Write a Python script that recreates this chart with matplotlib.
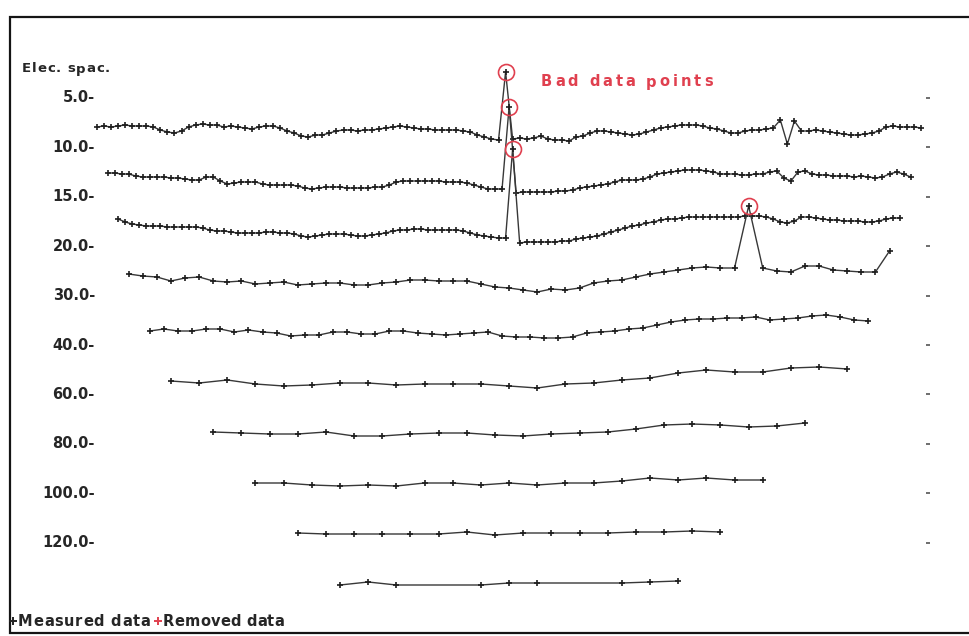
import numpy as np
import matplotlib
matplotlib.use("Agg")
import matplotlib.pyplot as plt
from matplotlib.font_manager import FontProperties
from matplotlib.transforms import offset_copy

# --------------------------------------------------------------------------
# data: Wenner profile, one list per electrode spacing (relative values,
# positive = higher on the plot). None = datum not shown.
# --------------------------------------------------------------------------
spacings = [5.0, 10.0, 15.0, 20.0, 30.0, 40.0, 60.0, 80.0, 100.0, 120.0]
steps = [5, 5, 5, 10, 10, 20, 20, 20, 20, 20]   # plotted datum interval (m)

a5 = [3, 4, 3, 4, 5, 4, 4, 4, 3, 0,
      -2, -3, -1, 3, 5, 6, 5, 5, 3, 4,
      3, 2, 1, 3, 4, 4, 2, -1, -3, -6,
      -7, -5, -5, -3, -1, 0, 0, -1, 0, 0,
      1, 2, 3, 4, 3, 2, 1, 1, 0, 0,
      0, 0, -1, -2, -5, -7, -9, -10, 58, -9,
      -8, -9, -8, -6, -9, -10, -10, -11, -7, -6,
      -3, -1, -1, -2, -3, -4, -5, -4, -2, 0,
      2, 3, 4, 5, 5, 5, 4, 2, 1, -1,
      -3, -3, -1, 0, 0, 1, 2, 10, -14, 9,
      -1, -1, 0, -1, -2, -3, -4, -5, -5, -4,
      -3, -1, 3, 4, 3, 3, 3, 2]
a10 = [7, 7, 6, 6, 4, 3, 3, 3, 3, 2,
       2, 1, 0, 0, 3, 3, -1, -4, -3, -2,
       -2, -2, -4, -5, -5, -5, -5, -6, -8, -9,
       -8, -7, -7, -7, -8, -8, -8, -8, -7, -7,
       -5, -2, -1, -1, -1, -1, -1, -1, -2, -2,
       -2, -3, -5, -7, -9, -9, -9, 73, -13, -12,
       -12, -12, -12, -12, -11, -11, -10, -8, -7, -6,
       -5, -4, -2, 0, 0, 0, 1, 3, 6, 7,
       8, 9, 10, 10, 10, 9, 8, 6, 6, 6,
       5, 5, 6, 6, 8, 9, 2, -1, 8, 9,
       6, 5, 5, 4, 4, 4, 3, 4, 3, 2,
       3, 6, 8, 6, 3]
a15 = [11, 8, 6, 5, 4, 4, 4, 3, 3, 3,
       3, 3, 2, 0, -1, -1, -2, -3, -3, -3,
       -3, -2, -2, -3, -3, -4, -6, -7, -6, -5,
       -4, -4, -4, -5, -6, -6, -5, -4, -3, -1,
       0, 0, 1, 1, 0, 0, 0, 0, 0, -1,
       -3, -5, -6, -7, -8, -8, 81, -13, -12, -12,
       -12, -12, -12, -11, -11, -9, -8, -7, -6, -4,
       -2, 0, 2, 4, 5, 7, 8, 10, 11, 11,
       12, 13, 13, 13, 13, 13, 13, 13, 13, 14,
       14, 14, 13, 11, 8, 7, 9, 13, 13, 12,
       11, 10, 10, 9, 9, 9, 8, 8, 9, 11,
       12, 12]
a20 = [6, 4, 3, -1, 2, 3, -1, -2, -1, -4,
       -3, -2, -5, -4, -3, -3, -5, -5, -3, -2,
       0, 0, -1, -1, -1, -4, -7, -8, -10, -12,
       -9, -10, -8, -3, -1, 0, 3, 6, 8, 10,
       12, 13, 12, 12, 74, 12, 9, 8, 14, 14,
       10, 9, 8, 8, 29]
a30 = [-1, 1, -1, -1, 1, 1, -2, 0, -2, -3,
       -6, -5, -5, -2, -2, -4, -4, -1, -1, -3,
       -4, -5, -4, -3, -2, -6, -7, -7, -8, -8,
       -7, -3, -2, -1, 1, 2, 5, 8, 10, 11,
       11, 12, 12, 13, 10, 11, 12, 14, 15, 13,
       10, 9]
a40 = [-1, -3, 0, -4, -6, -5, -3, -3, -5, -4, -4, -4, -6,
       -8, -4, -3, 0, 2, 7, 10, 8, 8, 12, 13, 11]
a60 = [-2, -3, -4, -4, -2, -6, -6, -4, -3, -3, -5,
       -6, -4, -3, -2, 1, 5, 6, 5, 3, 4, 7]
a80 = [-3, -3, -5, -6, -5, -6, -3, -3, -5, -3,
       -5, -3, -3, -1, 2, 0, 2, 0, 0]
a100 = [-3, -4, -4, -4, -4, -4, -2, -5, -3, -3, -3, -3, -2, -2, -1, -2]
a120 = [-5, -2, -5, None, None, -5, -3, -3, None, None, -3, -2, -1]

profiles = [a5, a10, a15, a20, a30, a40, a60, a80, a100, a120]

# index of the removed (bad) datum on each spacing
bad_points = {5.0: 58, 10.0: 57, 15.0: 56, 20.0: 44}

# --------------------------------------------------------------------------
# layout (display units: metres across, pixel rows down)
# --------------------------------------------------------------------------
W, H = 969, 636
X0_PX = 86.4          # pixel column of electrode 0
PX_PER_M = 1.409
BASE0, BASE_GAP = 130, 50       # profile baselines
LAB0, LAB_GAP = 98, 49.4        # spacing labels
LINE_LEN = 600                  # m

LINE_COL = "#383838"
MARK_COL = "#1e1e1e"
TEXT_COL = "#262626"
RED = "#e0404f"
FONT = "DejaVu Sans"


def tracked_text(ax, x, y, s, size, track, color, transform=None):
    """Draw text char by char with extra letter spacing (pixels)."""
    fig = ax.figure
    r = fig.canvas.get_renderer()
    prop = FontProperties(family=FONT, weight="bold", size=size)
    base = transform if transform is not None else ax.transData
    ref = r.get_text_width_height_descent("||", prop, ismath=False)[0]
    dx = 0.0
    for ch in s:
        tr = offset_copy(base, fig=fig, x=dx, y=0, units="dots")
        ax.text(x, y, ch, transform=tr, fontproperties=prop, color=color,
                ha="left", va="center")
        w = r.get_text_width_height_descent("|" + ch + "|", prop, ismath=False)[0] - ref
        dx += w + track


fig = plt.figure(figsize=(W / 100, H / 100), dpi=100)
ax = fig.add_axes([0, 0, 1, 1])
ax.set_xlim(-X0_PX / PX_PER_M, (W - X0_PX) / PX_PER_M)
ax.set_ylim(H, 0)
ax.axis("off")

# frame (top, left, bottom)
ax.plot([1.0, 10 / W, 10 / W, 1.0], [1 - 17 / H, 1 - 17 / H, 1 - 633 / H, 1 - 633 / H],
        transform=ax.transAxes, color="#151515", lw=1.6, solid_joinstyle="miter",
        clip_on=False)

for k, (a, step, vals) in enumerate(zip(spacings, steps, profiles)):
    v = np.array(vals, dtype=float)
    x = 1.5 * a + step * np.arange(len(v))
    y = BASE0 + BASE_GAP * k - v
    ok = ~np.isnan(v)
    ax.plot(x[ok], y[ok], color=LINE_COL, lw=1.0, marker="+", ms=5, mew=1.2,
            mec=MARK_COL)
    if a in bad_points:
        i = bad_points[a]
        ax.plot(x[i], y[i], marker="o", ms=11.5, mfc="none", mec=RED, mew=1.2)

    lab_y = LAB0 + LAB_GAP * k
    ax.text(6, lab_y, f"{a:.1f}-", ha="right", va="center", fontsize=10.5,
            fontweight="bold", color=TEXT_COL, family=FONT)
    ax.plot(LINE_LEN - 3, lab_y, marker="_", ms=3.5, mew=1.2, color="#555555")

tracked_text(ax, (22 - X0_PX) / PX_PER_M, 69, "Elec. spac.", 9.5, 0.8, TEXT_COL)

tracked_text(ax, (541 - X0_PX) / PX_PER_M, 82, "Bad data points", 10.5, 2.9, RED)

# legend line at the bottom
ly = 1 - 621 / H
ax.plot(13 / W, ly, marker="+", ms=6, mew=1.4, color="#222222", transform=ax.transAxes)
tracked_text(ax, 18 / W, ly, "Measured data", 10.5, 0.7, TEXT_COL, transform=ax.transAxes)
ax.plot(158 / W, ly, marker="+", ms=6, mew=1.4, color=RED, transform=ax.transAxes)
tracked_text(ax, 163 / W, ly, "Removed data", 10.5, 0.2, TEXT_COL, transform=ax.transAxes)

fig.savefig("out.png", dpi=100)
